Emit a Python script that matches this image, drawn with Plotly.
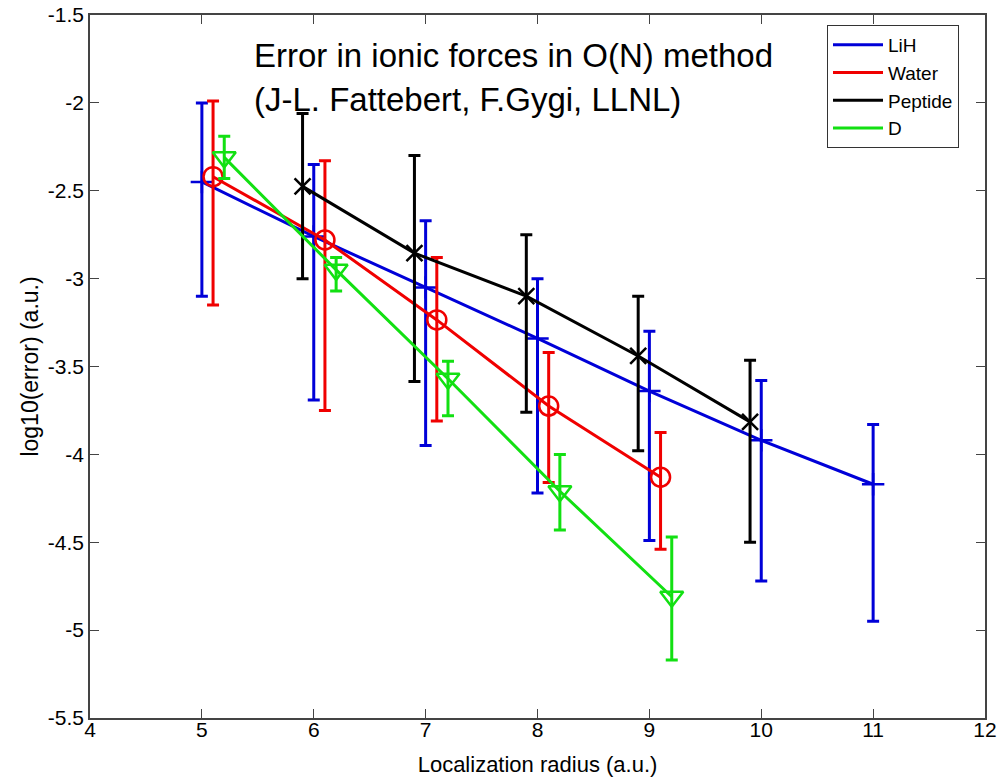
import plotly.graph_objects as go

# ---- data ----
series_names = ["LiH", "Water", "Peptide", "D"]

lih_x = [5, 6, 7, 8, 9, 10, 11]
lih_y = [-2.45, -2.76, -3.05, -3.34, -3.64, -3.92, -4.17]
lih_hi = [-2.00, -2.35, -2.67, -3.00, -3.30, -3.58, -3.83]
lih_lo = [-3.10, -3.69, -3.95, -4.22, -4.49, -4.72, -4.95]

water_x = [5.1, 6.1, 7.1, 8.1, 9.1]
water_y = [-2.42, -2.78, -3.235, -3.725, -4.13]
water_hi = [-1.99, -2.33, -2.88, -3.42, -3.875]
water_lo = [-3.15, -3.75, -3.81, -4.16, -4.54]

pep_x = [5.9, 6.9, 7.9, 8.9, 9.9]
pep_y = [-2.475, -2.855, -3.10, -3.44, -3.815]
pep_hi = [-2.06, -2.30, -2.75, -3.10, -3.465]
pep_lo = [-3.00, -3.585, -3.76, -3.98, -4.50]

d_x = [5.2, 6.2, 7.2, 8.2, 9.2]
d_y = [-2.31, -2.95, -3.57, -4.21, -4.81]
d_hi = [-2.19, -2.88, -3.47, -4.00, -4.47]
d_lo = [-2.43, -3.07, -3.78, -4.43, -5.17]

x_ticks = [4, 5, 6, 7, 8, 9, 10, 11, 12]
y_ticks = [-5.5, -5, -4.5, -4, -3.5, -3, -2.5, -2, -1.5]
y_tick_labels = ["-5.5", "-5", "-4.5", "-4", "-3.5", "-3", "-2.5", "-2", "-1.5"]

title_line1 = "Error in ionic forces in O(N) method"
title_line2 = "(J-L. Fattebert, F.Gygi, LLNL)"

# ---- styles ----
colors = ["#0000d8", "#f00000", "#000000", "#12e012"]
symbols = ["cross-thin-open", "circle-open", "x-thin-open", "triangle-down-open"]
msizes = [16, 19, 16, 20]

data = [
    (lih_x, lih_y, lih_hi, lih_lo),
    (water_x, water_y, water_hi, water_lo),
    (pep_x, pep_y, pep_hi, pep_lo),
    (d_x, d_y, d_hi, d_lo),
]

fig = go.Figure()
for name, (xs, ys, hi, lo), c, sym, ms in zip(series_names, data, colors, symbols, msizes):
    fig.add_trace(go.Scatter(
        x=xs, y=ys, mode="lines", name=name, legendgroup=name,
        line=dict(color=c, width=3),
    ))
    fig.add_trace(go.Scatter(
        x=xs, y=ys, mode="markers", name=name, legendgroup=name, showlegend=False,
        marker=dict(symbol=sym, size=ms, color=c, line=dict(color=c, width=2.5)),
        error_y=dict(
            type="data", symmetric=False,
            array=[h - y for h, y in zip(hi, ys)],
            arrayminus=[y - l for l, y in zip(lo, ys)],
            color=c, thickness=3, width=6,
        ),
    ))

font_family = "Liberation Sans, Arial, sans-serif"

PT, PB, PL, PR = 15, 718, 90, 985  # plot-area pixel edges
H = 777
W = 1001

def ypix(p):
    return (PB - p) / (PB - PT)

fig.update_layout(
    width=W, height=H,
    margin=dict(l=PL, r=W - PR, t=PT, b=H - PB, autoexpand=False),
    paper_bgcolor="white", plot_bgcolor="white",
    font=dict(family=font_family, color="black"),
    showlegend=True,
    legend=dict(
        x=(827 - PL) / (PR - PL), y=ypix(25), xanchor="left", yanchor="top",
        bgcolor="white", bordercolor="#333333", borderwidth=1,
        font=dict(size=19, family=font_family),
        tracegroupgap=0, itemwidth=50,
    ),
    xaxis=dict(
        range=[4, 12], tickvals=x_ticks, ticktext=[str(v) for v in x_ticks],
        showgrid=False, zeroline=False, automargin=False,
        showline=True, linecolor="#444444", linewidth=1.5, mirror="ticks",
        ticks="inside", ticklen=9, tickcolor="#444444",
        tickfont=dict(size=21), ticklabelstandoff=-8,
        title=dict(text="Localization radius (a.u.)", font=dict(size=22), standoff=20),
    ),
    yaxis=dict(
        range=[-5.5, -1.5], tickvals=y_ticks, ticktext=y_tick_labels,
        showgrid=False, zeroline=False, automargin=False,
        showline=True, linecolor="#444444", linewidth=1.5, mirror="ticks",
        ticks="inside", ticklen=9, tickcolor="#444444",
        tickfont=dict(size=21), ticklabelstandoff=0,
        title=dict(text="log10(error) (a.u.)", font=dict(size=23), standoff=3),
    ),
    annotations=[
        dict(text=title_line1, xref="paper", yref="paper", x=(252 - PL) / (PR - PL), y=ypix(56),
             xanchor="left", yanchor="middle", showarrow=False, font=dict(size=33)),
        dict(text=title_line2, xref="paper", yref="paper", x=(252 - PL) / (PR - PL), y=ypix(99),
             xanchor="left", yanchor="middle", showarrow=False, font=dict(size=33)),
    ],
)

fig.write_html("out.html")
